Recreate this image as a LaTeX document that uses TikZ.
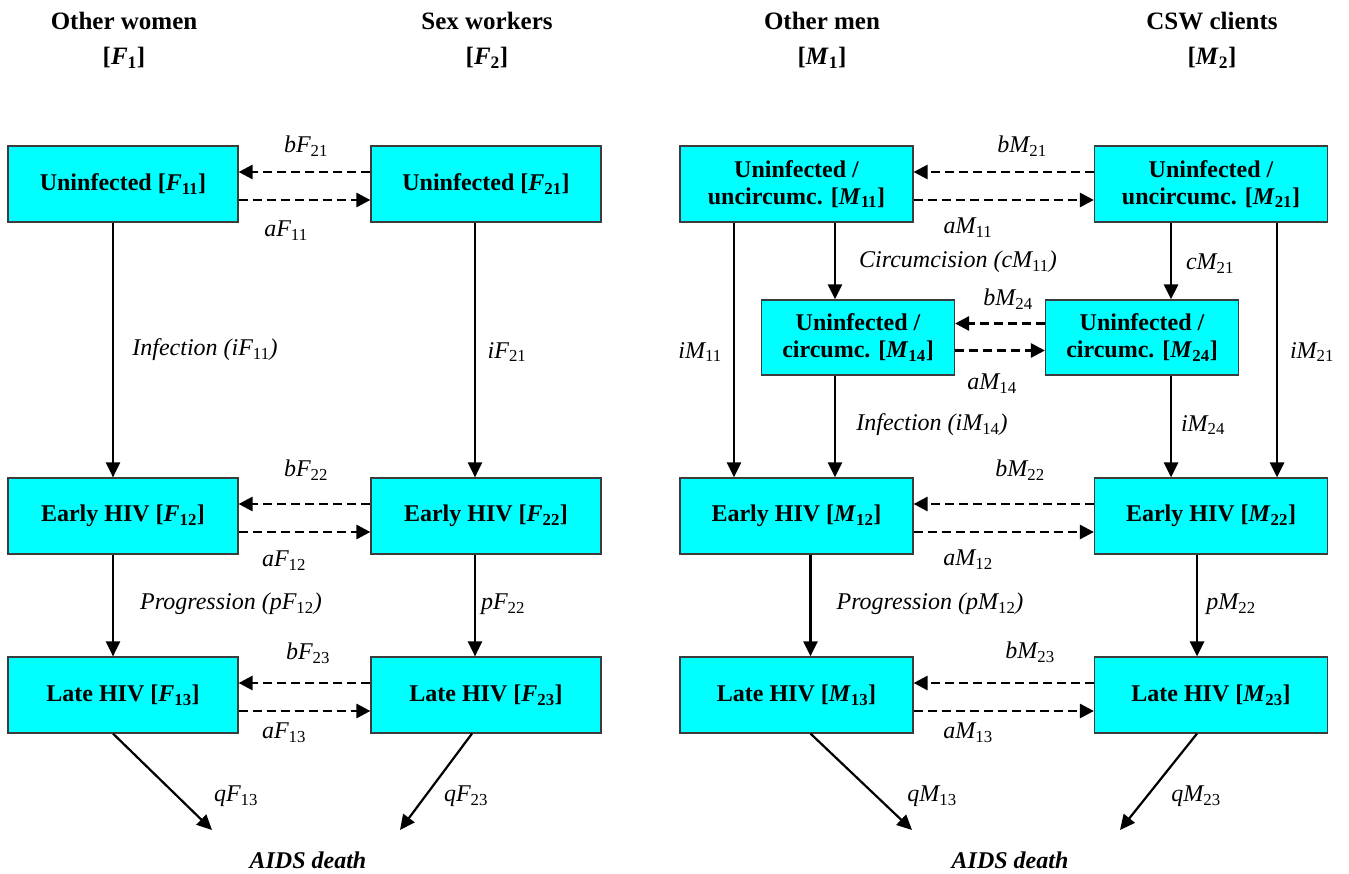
\documentclass[tikz,border=0pt]{standalone}
\usepackage{fontspec}
\setmainfont{Liberation Serif}
\usetikzlibrary{arrows.meta}
\definecolor{boxcyan}{RGB}{0,255,255}
\definecolor{boxedge}{RGB}{60,60,60}
\tikzset{
  box/.style={draw=boxedge, line width=1.2pt, fill=boxcyan, minimum width=230pt, minimum height=76pt, inner sep=0pt, align=center, font=\fontsize{24}{27}\selectfont\bfseries},
  mbox/.style={box, minimum width=233pt},
  sbox/.style={box, minimum width=193pt, minimum height=75pt},
  hdr/.style={align=center, font=\fontsize{25}{35}\selectfont\bfseries},
  lbl/.style={font=\fontsize{24}{26}\selectfont\itshape, inner sep=0pt},
  flow/.style={line width=2.2pt, -{Triangle[length=15pt,width=14pt]}},
  mflow/.style={flow, line width=2.8pt},
  dflow/.style={line width=2.8pt, dash pattern=on 9pt off 5pt, -{Triangle[length=14pt,width=14pt]}},
  death/.style={font=\fontsize{24}{26}\selectfont\bfseries\itshape}
}
\newcommand{\sub}[1]{\textsubscript{#1}}
\newcommand{\usub}[1]{\textsubscript{\upshape #1}}
\begin{document}
\begin{tikzpicture}[x=1pt,y=-1pt]
\useasboundingbox (0,0) rectangle (1349,874);
% headers
\node[hdr] (h1) at (124,40) {Other women\\{}[\textit{F}\sub{1}]};
\node[hdr] (h2) at (487,40) {Sex workers\\{}[\textit{F}\sub{2}]};
\node[hdr] (h3) at (822,40) {Other men\\{}[\textit{M}\sub{1}]};
\node[hdr] (h4) at (1212,40) {CSW clients\\{}[\textit{M}\sub{2}]};
% female boxes
\node[box] (F11) at (123,184) {Uninfected [\textit{F}\sub{11}]};
\node[box] (F21) at (486,184) {Uninfected [\textit{F}\sub{21}]};
\node[box] (F12) at (123,516) {Early HIV [\textit{F}\sub{12}]};
\node[box] (F22) at (486,516) {Early HIV [\textit{F}\sub{22}]};
\node[box] (F13) at (123,695) {Late HIV [\textit{F}\sub{13}]};
\node[box] (F23) at (486,695) {Late HIV [\textit{F}\sub{23}]};
% male boxes
\node[mbox] (M11) at (796.5,184) {Uninfected /\\uncircumc. [\textit{M}\sub{11}]};
\node[mbox] (M21) at (1211,184) {Uninfected /\\uncircumc. [\textit{M}\sub{21}]};
\node[sbox] (M14) at (858,337.5) {Uninfected /\\circumc. [\textit{M}\sub{14}]};
\node[sbox] (M24) at (1142,337.5) {Uninfected /\\circumc. [\textit{M}\sub{24}]};
\node[mbox] (M12) at (796.5,516) {Early HIV [\textit{M}\sub{12}]};
\node[mbox] (M22) at (1211,516) {Early HIV [\textit{M}\sub{22}]};
\node[mbox] (M13) at (796.5,695) {Late HIV [\textit{M}\sub{13}]};
\node[mbox] (M23) at (1211,695) {Late HIV [\textit{M}\sub{23}]};
% death targets
\coordinate (dF1) at (212,830);
\coordinate (dF2) at (400,830);
\coordinate (dM1) at (912,830);
\coordinate (dM2) at (1120,830);
\node[death] (deathF) at (308,860) {AIDS death};
\node[death] (deathM) at (1010,860) {AIDS death};
% dashed exchanges
\foreach \a/\b in {F11/F21,F12/F22,F13/F23,M11/M21,M12/M22,M13/M23}{
  \draw[dflow] ([yshift=12pt]\b.west) -- ([yshift=12pt]\a.east);
  \draw[dflow] ([yshift=-16pt]\a.east) -- ([yshift=-16pt]\b.west);
}
\draw[dflow] ([yshift=14pt]M24.west) -- ([yshift=14pt]M14.east);
\draw[dflow] ([yshift=-13pt]M14.east) -- ([yshift=-13pt]M24.west);
% dashed labels
\node[lbl] (lb1) at (306,146) {bF\usub{21}};
\node[lbl] (la1) at (286,231) {aF\usub{11}};
\node[lbl] (lb2) at (306,470) {bF\usub{22}};
\node[lbl] (la2) at (284,561) {aF\usub{12}};
\node[lbl] (lb3) at (308,653) {bF\usub{23}};
\node[lbl] (la3) at (284,733) {aF\usub{13}};
\node[lbl] (lmb1) at (1022,146) {bM\usub{21}};
\node[lbl] (lma1) at (968,228) {aM\usub{11}};
\node[lbl] (lmb4) at (1008,299) {bM\usub{24}};
\node[lbl] (lma4) at (992,384) {aM\usub{14}};
\node[lbl] (lmb2) at (1020,470) {bM\usub{22}};
\node[lbl] (lma2) at (968,560) {aM\usub{12}};
\node[lbl] (lmb3) at (1030,652) {bM\usub{23}};
\node[lbl] (lma3) at (968,733) {aM\usub{13}};
% female vertical flows
\draw[flow] ([xshift=-10pt]F11.south) -- ([xshift=-10pt]F12.north);
\draw[flow] ([xshift=-11pt]F21.south) -- ([xshift=-11pt]F22.north);
\draw[flow] ([xshift=-10pt]F12.south) -- ([xshift=-10pt]F13.north);
\draw[flow] ([xshift=-11pt]F22.south) -- ([xshift=-11pt]F23.north);
\draw[flow] ([xshift=-10pt]F13.south) -- (dF1);
\draw[flow] ([xshift=-14pt]F23.south) -- (dF2);
\node[lbl] (li1) at (205,350) {Infection (iF\usub{11})};
\node[lbl] (li2) at (507,352) {iF\usub{21}};
\node[lbl] (lp1) at (231,604) {Progression (pF\usub{12})};
\node[lbl] (lp2) at (503,604) {pF\usub{22}};
\node[lbl] (lq1) at (236,796) {qF\usub{13}};
\node[lbl] (lq2) at (466,796) {qF\usub{23}};
% male vertical flows
\draw[mflow] (M11.south -| 734,0) -- (M12.north -| 734,0);
\draw[mflow] (M11.south -| 835,0) -- (M14.north -| 835,0);
\draw[mflow] (M14.south -| 835,0) -- (M12.north -| 835,0);
\draw[mflow] (M21.south -| 1171,0) -- (M24.north -| 1171,0);
\draw[mflow] (M24.south -| 1171,0) -- (M22.north -| 1171,0);
\draw[mflow] (M21.south -| 1277,0) -- (M22.north -| 1277,0);
\draw[mflow] ([xshift=14pt]M12.south) -- ([xshift=14pt]M13.north);
\draw[mflow] ([xshift=-14pt]M22.south) -- ([xshift=-14pt]M23.north);
\draw[flow] ([xshift=14pt]M13.south) -- (dM1);
\draw[flow] ([xshift=-14pt]M23.south) -- (dM2);
\node[lbl] (lim1) at (700,352) {iM\usub{11}};
\node[lbl] (lcm1) at (958,262) {Circumcision (cM\usub{11})};
\node[lbl] (lim4) at (932,425) {Infection (iM\usub{14})};
\node[lbl] (lcm2) at (1210,264) {cM\usub{21}};
\node[lbl] (lim2) at (1312,352) {iM\usub{21}};
\node[lbl] (lim24) at (1203,425) {iM\usub{24}};
\node[lbl] (lpm1) at (930,604) {Progression (pM\usub{12})};
\node[lbl] (lpm2) at (1231,604) {pM\usub{22}};
\node[lbl] (lqm1) at (932,796) {qM\usub{13}};
\node[lbl] (lqm2) at (1196,796) {qM\usub{23}};
\end{tikzpicture}
\end{document}
